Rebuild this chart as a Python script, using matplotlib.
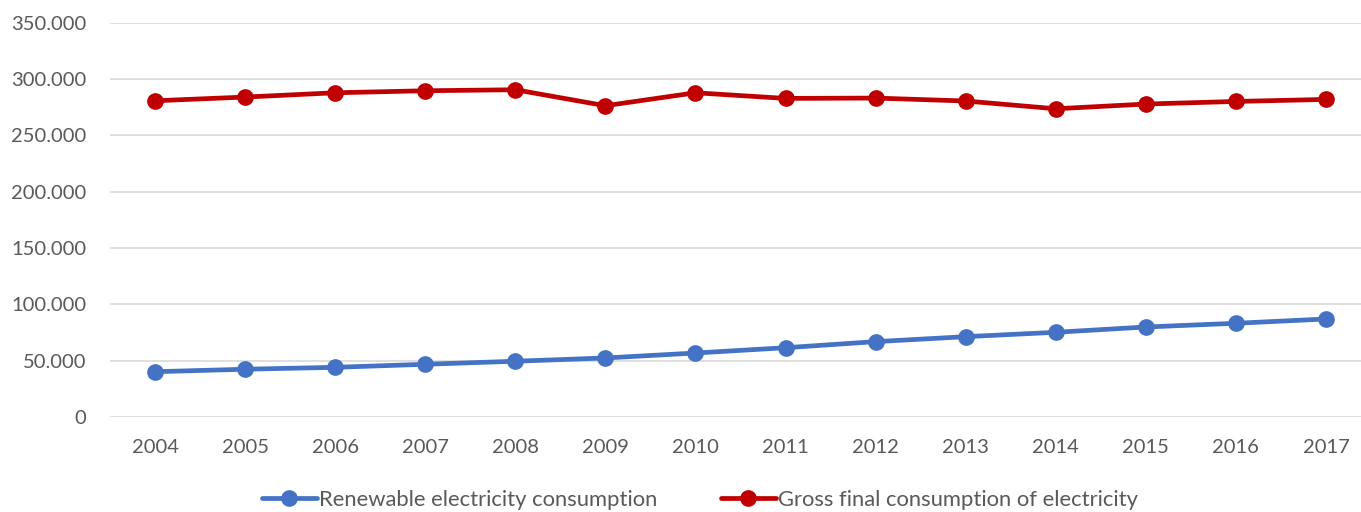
import matplotlib
matplotlib.use("Agg")
import matplotlib.pyplot as plt
from matplotlib.ticker import FuncFormatter

years = ["2004", "2005", "2006", "2007", "2008", "2009", "2010",
         "2011", "2012", "2013", "2014", "2015", "2016", "2017"]
renewable = [40200, 42400, 44100, 46800, 49500, 52400, 56800,
             61500, 66900, 71300, 75200, 79900, 83200, 87000]
gross = [280700, 284000, 287800, 289600, 290500, 276300, 287800,
         282800, 283100, 280500, 273600, 277800, 280100, 281900]
y_ticks = [0, 50000, 100000, 150000, 200000, 250000, 300000, 350000]

plt.rcParams["font.family"] = ["Lato", "DejaVu Sans"]
text_color = "#595959"

fig = plt.figure(figsize=(13.61, 5.12), dpi=100)
ax = fig.add_axes([110 / 1361, 1 - 417 / 512, 1261 / 1361, (417 - 22.7) / 512])

x = list(range(len(years)))
ax.plot(x, renewable, color="#4472C4", lw=3.4, marker="o", ms=11,
        label="Renewable electricity consumption", solid_capstyle="round")
ax.plot(x, gross, color="#C00000", lw=3.4, marker="o", ms=11,
        label="Gross final consumption of electricity", solid_capstyle="round")

ax.set_xlim(-0.5, len(years) - 0.5)
ax.set_ylim(0, 350000)
ax.set_yticks(y_ticks)
ax.yaxis.set_major_formatter(FuncFormatter(lambda v, p: f"{int(v):,}".replace(",", ".")))
ax.set_xticks(x)
ax.set_xticklabels(years)
ax.grid(axis="y", color="#D9D9D9", lw=1.2)
ax.set_axisbelow(True)
for s in ax.spines.values():
    s.set_visible(False)
ax.tick_params(axis="both", length=0, labelsize=14.5, colors=text_color)
ax.tick_params(axis="x", pad=16)
ax.tick_params(axis="y", pad=17)

leg = fig.legend(loc="center", bbox_to_anchor=(700 / 1361, 1 - 500 / 512), ncol=2,
                 frameon=False, fontsize=15.8, handlelength=2.5, handletextpad=0.1,
                 columnspacing=2.9)
for t in leg.get_texts():
    t.set_color(text_color)

fig.savefig("out.png", dpi=100)
